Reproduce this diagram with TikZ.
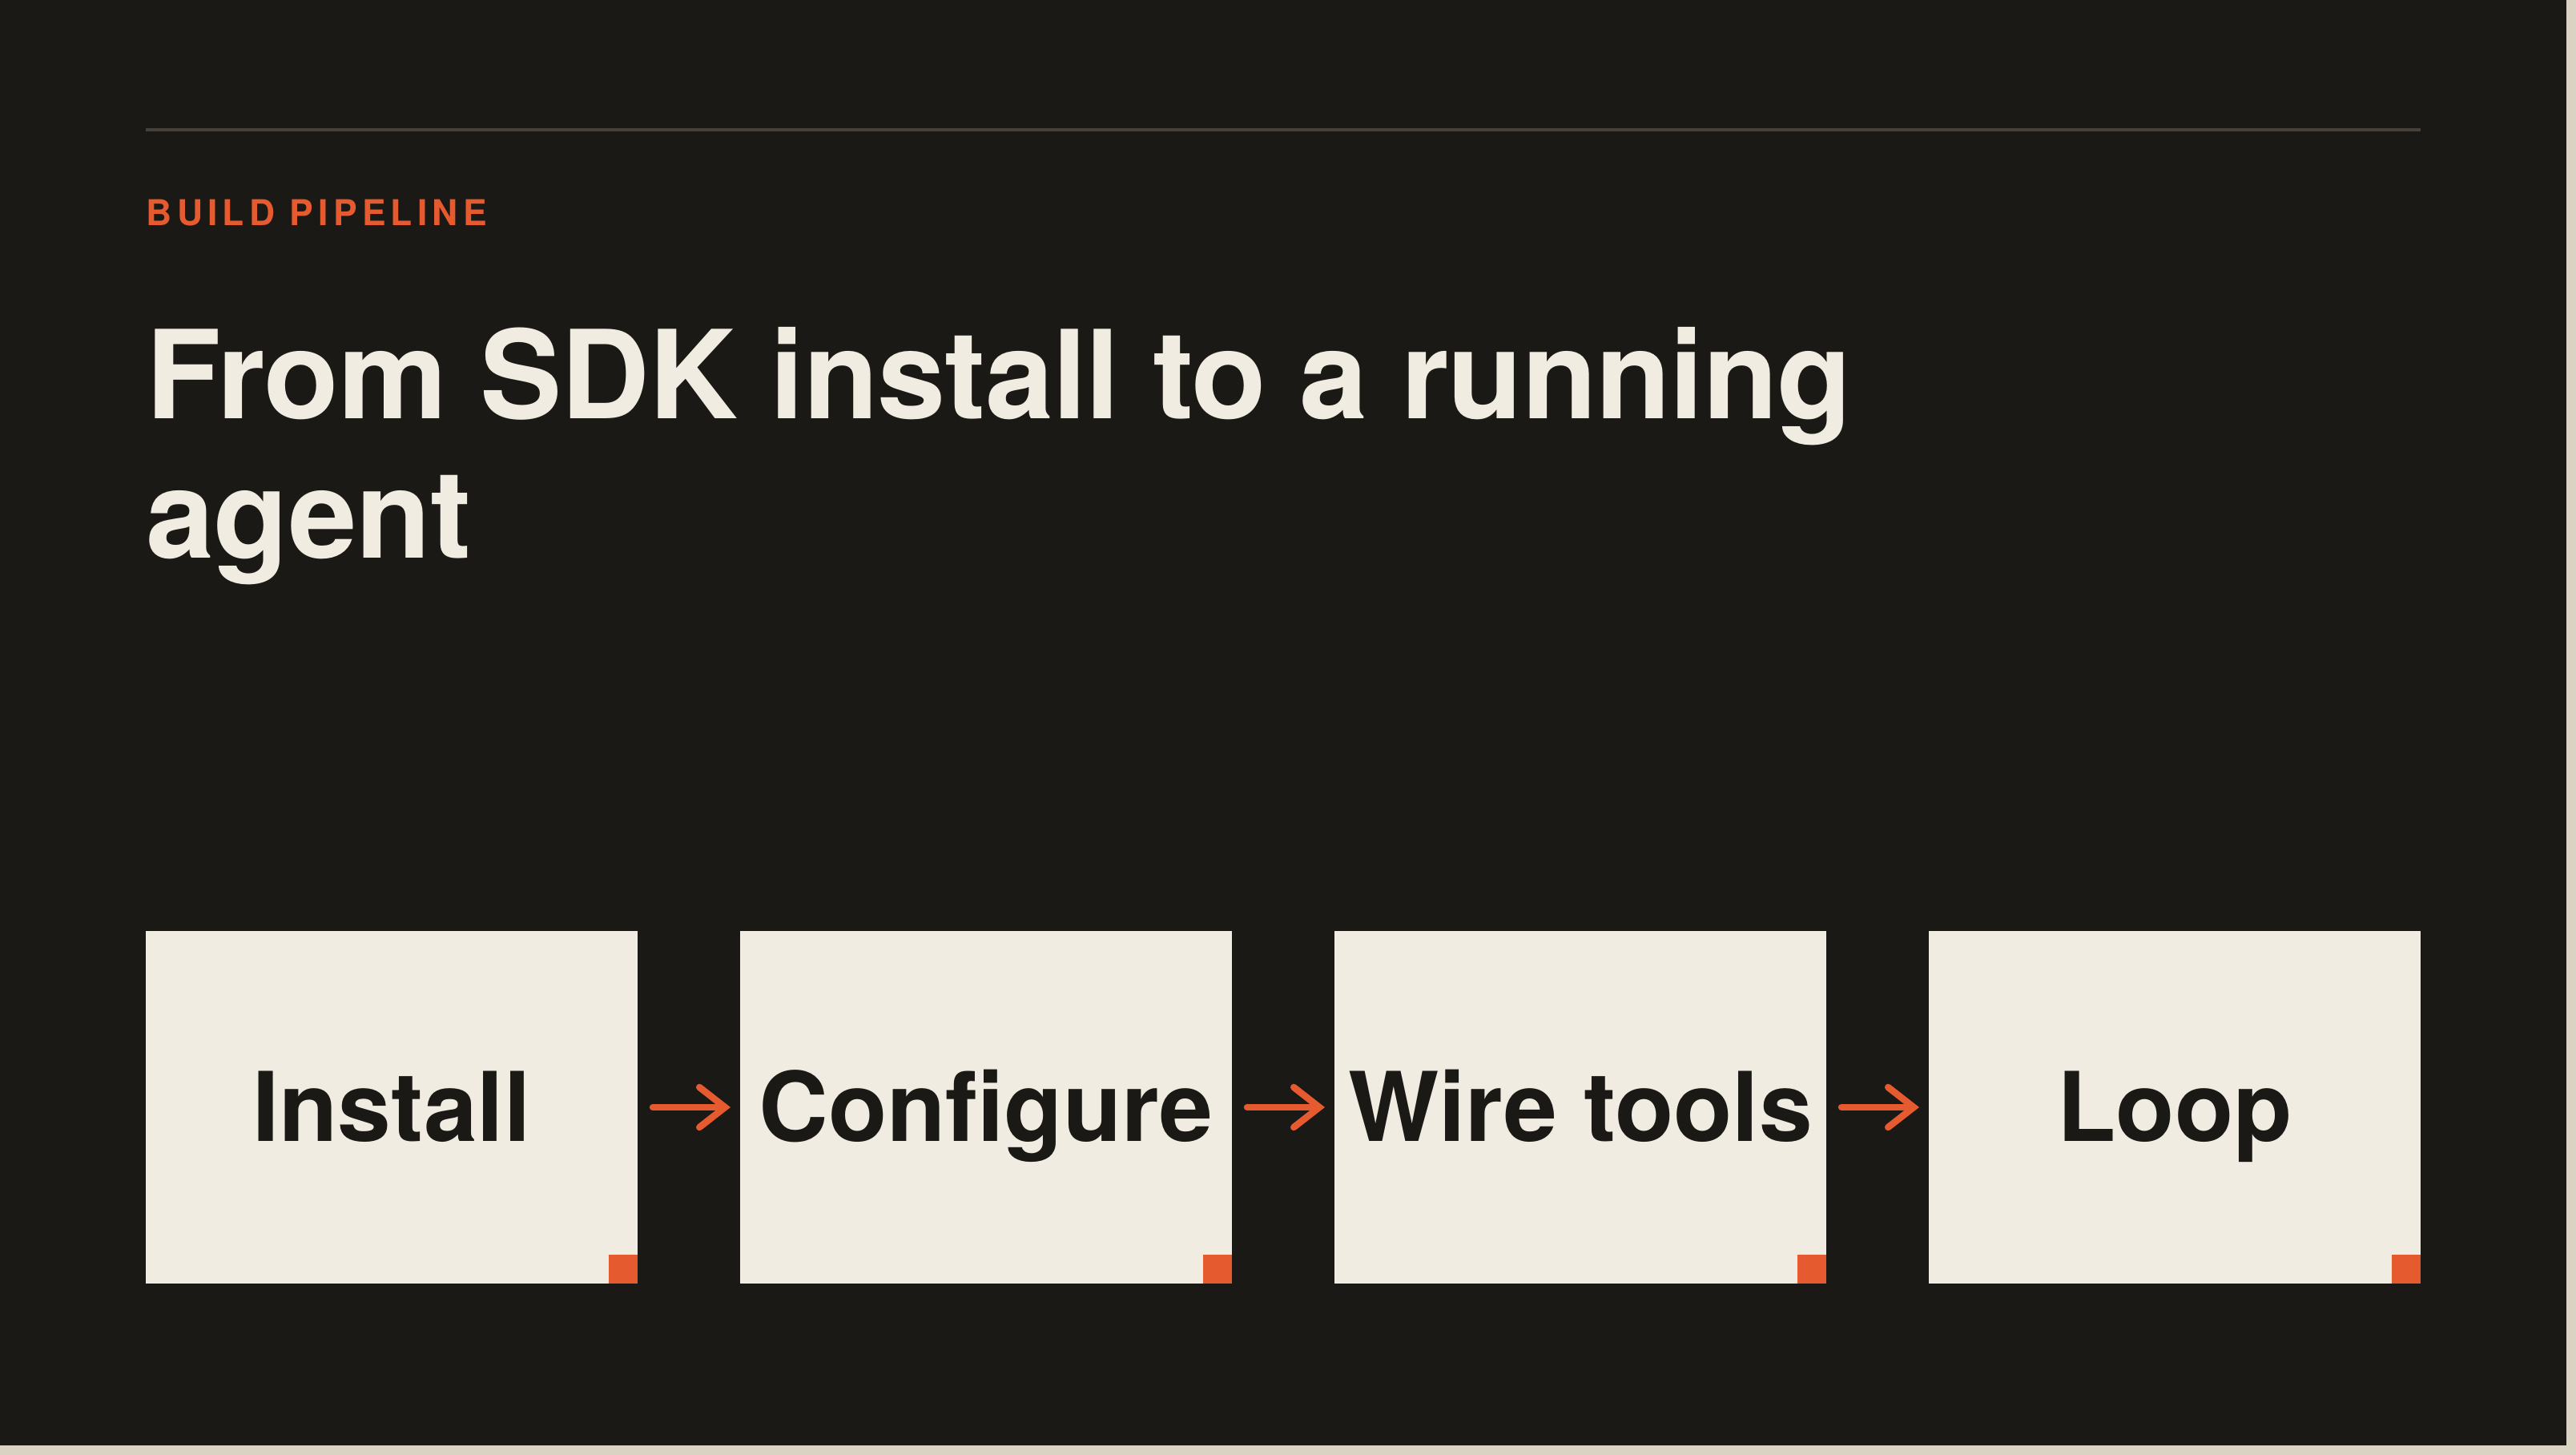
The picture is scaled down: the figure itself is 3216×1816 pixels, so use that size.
\documentclass[tikz,border=0pt]{standalone}
\usepackage{fontspec}
\setmainfont{TeX Gyre Heros}
\usepackage{xcolor}
\usetikzlibrary{arrows.meta,positioning}

\definecolor{ink}{HTML}{1B1915}
\definecolor{paper}{HTML}{F0ECE2}
\definecolor{accent}{HTML}{E55B2F}
\definecolor{rulegray}{HTML}{46413B}
\definecolor{edge}{HTML}{DAD3C3}

\begin{document}
\begin{tikzpicture}[x=0.25pt, y=-0.25pt,
    stage/.style={fill=paper, text=ink, minimum width=153.5pt, minimum height=110pt,
        inner sep=0pt, outer sep=0pt, text height=21.2pt, text depth=0pt,
        font=\fontsize{30}{36}\selectfont\bfseries},
    heading/.style={anchor=base west, inner sep=0pt, text=paper,
        font=\fontsize{38.3}{44}\selectfont\bfseries\addfontfeatures{LetterSpace=-0.8}},
    flow/.style={draw=accent, line width=2.1pt, line cap=round,
        -{Straight Barb[length=8pt, width=12.5pt, line cap=round, line join=miter]},
        shorten <=4.75pt, shorten >=3pt}]
    \useasboundingbox (0,0) rectangle (3216,1816);
    \fill[edge] (0,0) rectangle (3216,1816);
    \fill[ink] (0,0) rectangle (3204,1804);
    \draw[rulegray, line width=1pt] (182,162) -- (3022,162);

    \node[anchor=base west, inner sep=0pt, text=accent,
        font=\fontsize{11.1}{13}\selectfont\bfseries\addfontfeatures{LetterSpace=14}] (kicker) at (182,282) {BUILD PIPELINE};
    \node[heading] (title) at (182,523) {From SDK install to a running};
    \node[heading] (titleb) at (182,697) {agent};

    \node[stage, anchor=north west] (install) at (182,1162) {Install};
    \node[stage, right=32pt of install] (configure) {Configure};
    \node[stage, right=32pt of configure] (wiretools) {Wire tools};
    \node[stage, right=32pt of wiretools] (agentloop) {Loop};

    \foreach \s in {install,configure,wiretools,agentloop}
        \fill[accent] (\s.south east) rectangle ++(-36,-36);
    \foreach \a/\b in {install/configure, configure/wiretools, wiretools/agentloop}
        \draw[flow] (\a) -- (\b); % arrows between the steps

\end{tikzpicture}
\end{document}
